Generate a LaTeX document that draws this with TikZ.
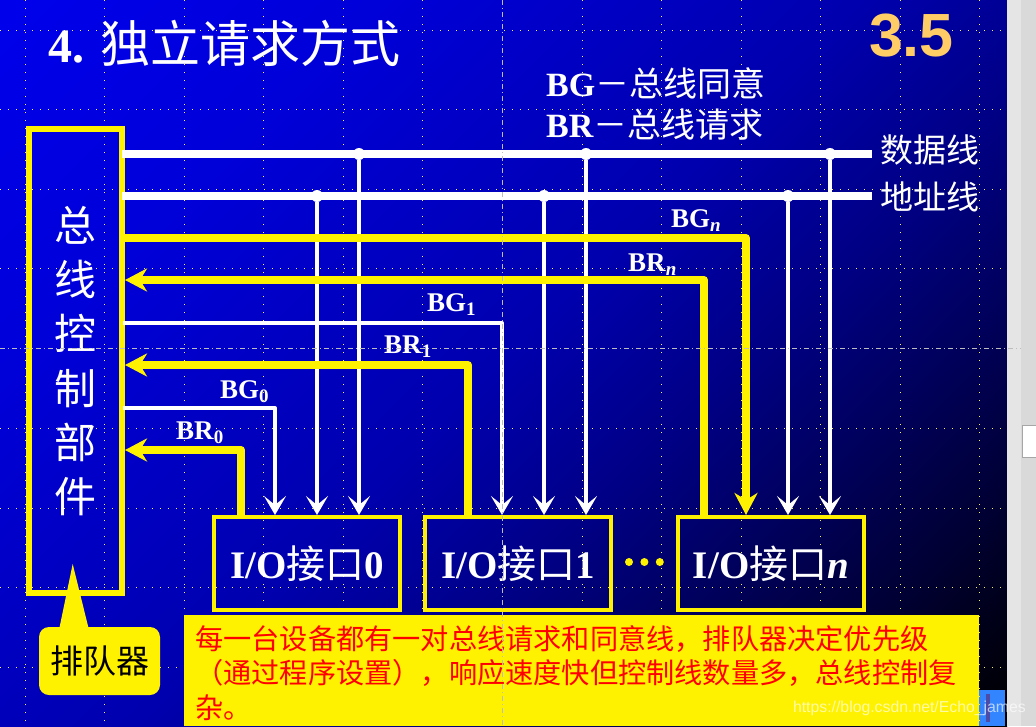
\documentclass[tikz,border=0pt]{standalone}
\usepackage{fontspec}
\usetikzlibrary{arrows.meta,positioning,shadings}
\setmainfont{Liberation Serif}
\setsansfont{Liberation Sans}
\newfontfamily\cjk{Noto Sans CJK SC}
\newcommand{\pxsize}[2]{\fontsize{#1}{#2}\selectfont}
\newcommand{\busname}[2]{\textbf{#1}\raisebox{-.17em}{\pxsize{19}{19}\textbf{#2}}}
\definecolor{secorange}{HTML}{FFCC66}
\definecolor{gridyellow}{HTML}{F4F45A}
\definecolor{guidegray}{HTML}{BDBDBD}
\pgfdeclareverticalshading{slidefade}{100bp}{rgb(0bp)=(0,0,0); rgb(15bp)=(0,0,0); rgb(24bp)=(0,0,.2); rgb(40bp)=(0,0,.52); rgb(50bp)=(0,0,.68); rgb(70bp)=(0,0,.85); rgb(85bp)=(0,0,.92); rgb(100bp)=(0,0,.92)}
\tikzset{
    busline/.style={draw=white, line width=8pt},
    tapline/.style={draw=white, line width=4pt, line join=round, -{Stealth[length=19pt, width=22pt, inset=9pt]}},
    grantline/.style={draw=yellow, line width=8pt, line join=round, -{Stealth[length=22pt, width=23pt, inset=7pt]}},
    reqline/.style={draw=yellow, line width=8pt, line join=round, {Stealth[length=22pt, width=23pt, inset=7pt]}-},
    tapdot/.style={circle, fill=white, minimum size=12pt, inner sep=0pt},
    iobox/.style={draw=yellow, line width=4pt, minimum width=186pt, minimum height=93pt, inner sep=0pt, text=white, font=\pxsize{39}{41}},
    buslabel/.style={anchor=base west, inner sep=0pt, text=white, font=\pxsize{27}{30}},
    whitetext/.style={inner sep=0pt, text=white},
    gridline/.style={draw=gridyellow, line width=.7pt, dash pattern=on 1pt off 7pt},
    guideline/.style={draw=guidegray, line width=1pt, dash pattern=on 5pt off 3pt on 1pt off 3pt}
}

\begin{document}
\begin{tikzpicture}[x=1pt, y=-1pt]
        \useasboundingbox (0,0) rectangle (1036,726);

        % Slide background and window edge
        \shade[shading=slidefade, shading angle=45] (0,0) rectangle (1007,726);
        \fill[black!10] (1007,0) rectangle (1021,726);
        \fill[black!15] (1021,0) rectangle (1036,726);
        \node[draw=black!35, fill=white, minimum width=14pt, minimum height=32pt, inner sep=0pt] (thumb) at (1029,441.5) {};
        \fill[blue!60!cyan!80] (979,690) rectangle (1005,726);
        \fill[blue!50!black!70] (986,694) rectangle (990,722);

        % Grid dots
        \foreach \gx in {25,104,184,263,343,422,582,661,741,820,900,979}
            \draw[gridline] (\gx,0) -- (\gx,726);
        \foreach \gy in {30,109,189,268,428,508,587,667}
            \draw[gridline] (0,\gy) -- (1005,\gy);

        % Title
        \node[whitetext, anchor=base west, font=\pxsize{48}{50}] (title) at (48,62) {\textbf{4.}};
        \node[whitetext, anchor=base west, font=\pxsize{50}{52}] (titlecjk) at (100,62) {\cjk 独立请求方式};
        \node[anchor=base east, inner sep=0pt, text=secorange, font=\pxsize{61}{63}\sffamily\bfseries] (sec) at (954,56) {3.5};

        % Legend
        \node[whitetext, anchor=base west, font=\pxsize{34}{36}] (bglegend) at (546,96) {\textbf{BG}{\cjk －总线同意}};
        \node[whitetext, anchor=base west, font=\pxsize{34}{36}] (brlegend) at (546,137) {\textbf{BR}{\cjk －总线请求}};

        % Control unit
        \node[draw=yellow, line width=6pt, minimum width=93pt, minimum height=464pt, inner sep=0pt, align=center, text=white, font=\pxsize{42}{54.2}\cjk] (ctrl) at (75.5,361) {总\\线\\控\\制\\部\\件};

        % Interfaces
        \node[iobox] (iozero) at (307,563.5) {\textbf{I/O}{\cjk 接口}\textbf{0}};
        \node[iobox, right=21pt of iozero] (ioone) {\textbf{I/O}{\cjk 接口}\textbf{1}};
        \node[iobox, right=63pt of ioone] (ion) {\textbf{I/O}{\cjk 接口}\textit{\textbf{n}}};

        % Data and address bus
        \coordinate (dataend) at (872,154);
        \coordinate (addrend) at (872,196);
        \draw[busline] (ctrl.east |- dataend) ++(-3,0) -- (dataend);
        \draw[busline] (ctrl.east |- addrend) ++(-3,0) -- (addrend);
        \node[whitetext, anchor=west, font=\pxsize{33}{35}\cjk] (datalabel) at (880,150) {数据线};
        \node[whitetext, anchor=west, font=\pxsize{33}{35}\cjk] (addrlabel) at (880,197) {地址线};

        % Taps for interface 0
        \node[tapdot] (addrzero) at (317,196) {};
        \node[tapdot] (datazero) at (359,154) {};
        \draw[tapline] (addrzero) -- (addrzero |- iozero.north);
        \draw[tapline] (datazero) -- (datazero |- iozero.north);

        % Taps for interface 1
        \node[tapdot] (addrone) at (544,196) {};
        \node[tapdot] (dataone) at (586,154) {};
        \draw[tapline] (addrone) -- (addrone |- ioone.north);
        \draw[tapline] (dataone) -- (dataone |- ioone.north);

        % Taps for interface n
        \node[tapdot] (addrn) at (788,196) {};
        \node[tapdot] (datan) at (830,154) {};
        \draw[tapline] (addrn) -- (addrn |- ion.north);
        \draw[tapline] (datan) -- (datan |- ion.north);

        % Grant and request lines
        \coordinate (bgzero) at (275,408);
        \coordinate (brzero) at (241,450);
        \coordinate (bgone) at (502,323);
        \coordinate (brone) at (468,365);
        \coordinate (bgn) at (746,238);
        \coordinate (brn) at (704,280);
        \draw[tapline] (ctrl.east |- bgzero) ++(-2,0) -- (bgzero) -- (bgzero |- iozero.north);
        \draw[reqline] (ctrl.east |- brzero) -- (brzero) -- (brzero |- iozero.north);
        \draw[tapline] (ctrl.east |- bgone) ++(-2,0) -- (bgone) -- (bgone |- ioone.north);
        \draw[reqline] (ctrl.east |- brone) -- (brone) -- (brone |- ioone.north);
        \draw[grantline] (ctrl.east |- bgn) ++(-3,0) -- (bgn) -- (bgn |- ion.north);
        \draw[reqline] (ctrl.east |- brn) -- (brn) -- (brn |- ion.north);

        % Line labels
        \node[buslabel] (bgzerolabel) at (220,398) {\busname{BG}{0}};
        \node[buslabel] (brzerolabel) at (176,439) {\busname{BR}{0}};
        \node[buslabel] (bgonelabel) at (427,311) {\busname{BG}{1}};
        \node[buslabel] (bronelabel) at (384,353) {\busname{BR}{1}};
        \node[buslabel] (bgnlabel) at (671,227) {\busname{BG}{\textit{n}}};
        \node[buslabel] (brnlabel) at (628,271) {\busname{BR}{\textit{n}}};

        % Dots between interfaces
        \node[circle, fill=yellow, minimum size=8pt, inner sep=0pt] (dota) at (629,562) {};
        \node[circle, fill=yellow, minimum size=8pt, inner sep=0pt, right=7pt of dota] (dotb) {};
        \node[circle, fill=yellow, minimum size=8pt, inner sep=0pt, right=7pt of dotb] (dotc) {};

        % Arbiter
        \node[fill=yellow, rounded corners=10pt, minimum width=121pt, minimum height=68pt, inner sep=0pt, text=black, font=\pxsize{33}{35}\cjk] (queue) at (99.5,661) {排队器};
        \coordinate (queuetip) at (72.7,564);
        \fill[yellow] (queuetip) -- (59,630) -- (89,630) -- cycle;

        % Note
        \node[fill=yellow, anchor=north west, minimum width=795pt, minimum height=111pt, inner sep=0pt] (note) at (184,615) {};
        \node[anchor=west, inner sep=0pt, text width=773pt, align=left, text=red, font=\pxsize{28.2}{34.5}\cjk] (notetext) at (195,673) {每一台设备都有一对总线请求和同意线，排队器决定优先级\\（通过程序设置），响应速度快但控制线数量多，总线控制复\\杂。};

        % Guides and watermark
        \draw[guideline] (0,348) -- (1021,348);
        \draw[guideline] (502,0) -- (502,726);
        \node[anchor=base east, inner sep=0pt, text=white, text opacity=0.65, font=\pxsize{15.8}{17}\sffamily] (mark) at (1026,712) {https://blog.csdn.net/Echo\_james};
\end{tikzpicture}
\end{document}
